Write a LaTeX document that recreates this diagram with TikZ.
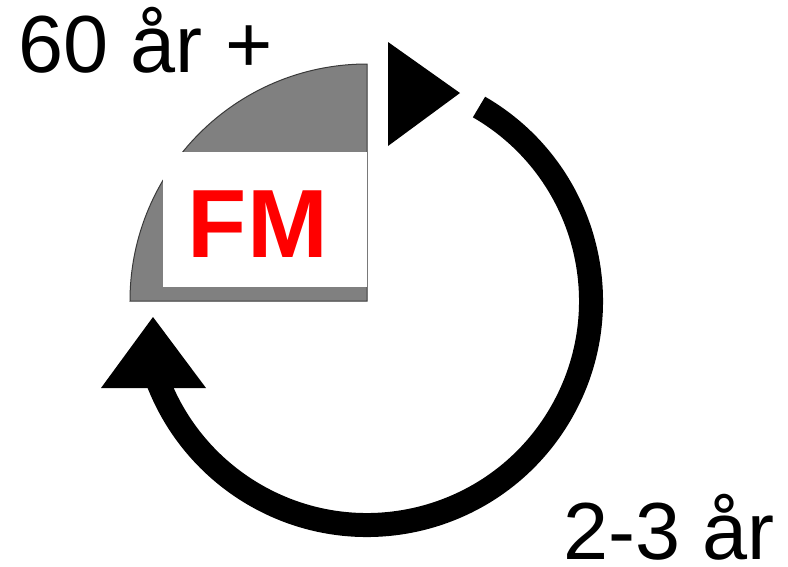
\documentclass[tikz,border=0pt]{standalone}
\usepackage{fontspec}
\setmainfont{Liberation Sans}
\usetikzlibrary{calc}
\definecolor{graSektor}{HTML}{808080}
\definecolor{kantGra}{HTML}{3A3A3A}
\definecolor{rodFM}{HTML}{FF0000}

\begin{document}
\begin{tikzpicture}[x=1pt, y=-1pt,
        etikett/.style={inner sep=0, anchor=base west, text depth=0pt, font=\fontsize{81}{90}\selectfont},
        sektor/.style={fill=graSektor, draw=kantGra, line width=1pt},
        ring/.style={line width=24pt, line cap=butt},
        spets/.style={fill=black}]
    \useasboundingbox (0,0) rectangle (788,566);
    \coordinate (c) at (367,301);
    % grå kvartscirkel och vit ruta
    \draw[sektor] (c) -- ++(-237,0) arc[start angle=180, end angle=270, radius=237] -- cycle;
    \fill[white] (163,152) rectangle (366.5,287);
    \node[font=\fontsize{97}{100}\selectfont\bfseries, text=rodFM, inner sep=0] (fm) at (258,224) {FM};
    % cirkelpil
    \draw[ring] (c) ++(-60:224) arc[start angle=-60, end angle=160, radius=224];
    \fill[spets] (388,42) -- (460,93) -- (388,146) -- cycle;
    \fill[spets] (153,317) -- (206,388) -- (101,388) -- cycle;
    % etiketter
    \node[etikett] (alder) at (18,72) {60 år +};
    \node[etikett] (tid) at (563,559) {2-3 år};
\end{tikzpicture}
\end{document}
